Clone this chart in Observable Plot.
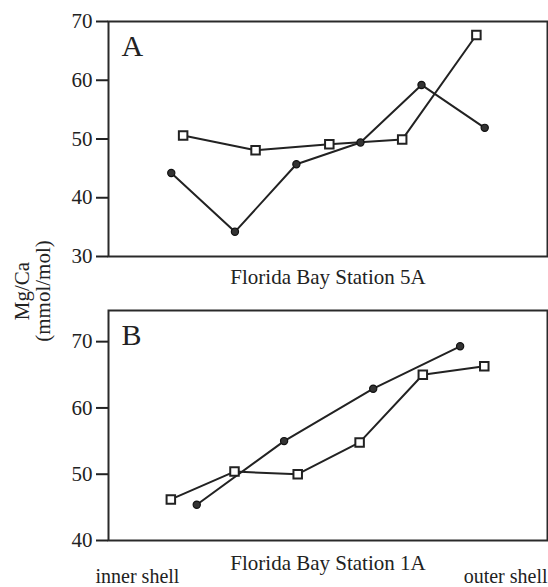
<!DOCTYPE html>
<html>
<head>
<meta charset="utf-8">
<script src="https://cdn.jsdelivr.net/npm/d3@7"></script>
<script src="https://cdn.jsdelivr.net/npm/@observablehq/plot@0.6"></script>
<style>
  html, body { margin: 0; padding: 0; background: #fff; }
  #chart { position: relative; width: 548px; height: 587px; font-family: "Liberation Serif", "Times New Roman", serif; color: #222; }
  #chart svg { display: block; }
  #chart svg text { font-family: "Liberation Serif", "Times New Roman", serif; }
  #ylab { position: absolute; left: 0; top: 0; pointer-events: none; }
</style>
</head>
<body>
<div id="chart"></div>
<script>
// Panel A: Florida Bay Station 5A
const panelA = "A";
const stationA = "Florida Bay Station 5A";
const posA_circle = [14.3, 28.8, 42.8, 57.4, 71.3, 85.7];
const mgcaA_circle = [44.2, 34.2, 45.7, 49.4, 59.2, 51.9];
const posA_square = [17.0, 33.5, 50.3, 66.9, 83.8];
const mgcaA_square = [50.6, 48.1, 49.1, 49.9, 67.7];
const ticksA = [30, 40, 50, 60, 70];

// Panel B: Florida Bay Station 1A
const panelB = "B";
const stationB = "Florida Bay Station 1A";
const posB_circle = [20.1, 40.0, 60.3, 80.1];
const mgcaB_circle = [45.4, 55.0, 62.9, 69.3];
const posB_square = [14.2, 28.7, 43.1, 57.2, 71.6, 85.6];
const mgcaB_square = [46.2, 50.4, 50.0, 54.8, 65.0, 66.3];
const ticksB = [40, 50, 60, 70];

const yTitle = ["Mg/Ca", "(mmol/mol)"];
const shellLabels = ["inner shell", "outer shell"];

const toRows = (xs, ys) => xs.map((x, i) => ({x, y: ys[i]}));

const INK = "#222";
const FONT = "'Liberation Serif', 'Times New Roman', serif";

function panel({letter, station, circles, squares, ticks, yDomain, height, marginTop, marginBottom, stationDy, extra = []}) {
  return Plot.plot({
    width: 548,
    height,
    marginLeft: 108,
    marginRight: 1,
    marginTop,
    marginBottom,
    style: {fontFamily: FONT, fontSize: "21px", color: INK, background: "transparent", overflow: "visible"},
    x: {domain: [0, 100], axis: null},
    y: {domain: yDomain, ticks, tickSize: 12, tickPadding: 4, label: null, tickFormat: d => d},
    marks: [
      Plot.frame({stroke: "#2a2a2a", strokeWidth: 2}),
      Plot.axisY({ticks, tickSize: 12, tickPadding: 4, label: null, strokeWidth: 2, fontSize: 21, fontFamily: FONT}),
      Plot.line(circles, {x: "x", y: "y", stroke: INK, strokeWidth: 2}),
      Plot.line(squares, {x: "x", y: "y", stroke: INK, strokeWidth: 2}),
      Plot.dot(circles, {x: "x", y: "y", r: 3.6, fill: "#333", stroke: "#111", strokeWidth: 1.2}),
      Plot.dot(squares, {x: "x", y: "y", symbol: "square", r: 4.8, fill: "white", stroke: INK, strokeWidth: 2}),
      Plot.text([letter], {text: d => d, frameAnchor: "top-left", textAnchor: "start", lineAnchor: "top", dx: 13, dy: 13, fontSize: 30, fontFamily: FONT, fill: INK}),
      Plot.text([station], {text: d => d, frameAnchor: "bottom", textAnchor: "middle", lineAnchor: "top", dy: stationDy, fontSize: 21, fontFamily: FONT, fill: INK}),
      ...extra
    ]
  });
}

const chart = document.getElementById("chart");

const plotA = panel({
  letter: panelA, station: stationA,
  circles: toRows(posA_circle, mgcaA_circle),
  squares: toRows(posA_square, mgcaA_square),
  ticks: ticksA, yDomain: [30, 70],
  height: 300, marginTop: 21, marginBottom: 44, stationDy: 13
});

const plotB = panel({
  letter: panelB, station: stationB,
  circles: toRows(posB_circle, mgcaB_circle),
  squares: toRows(posB_square, mgcaB_square),
  ticks: ticksB, yDomain: [40, 74.7],
  height: 287, marginTop: 10, marginBottom: 47, stationDy: 15,
  extra: [
    Plot.text([shellLabels[0]], {text: d => d, frameAnchor: "bottom-left", textAnchor: "start", lineAnchor: "top", dx: -13, dy: 28, fontSize: 20, fontFamily: FONT, fill: INK}),
    Plot.text([shellLabels[1]], {text: d => d, frameAnchor: "bottom-right", textAnchor: "end", lineAnchor: "top", dx: 0, dy: 28, fontSize: 20, fontFamily: FONT, fill: INK})
  ]
});

chart.appendChild(plotA);
chart.appendChild(plotB);

// Shared y-axis title, rotated, spanning both panels
const ysvg = d3.select(chart).append("svg")
  .attr("id", "ylab").attr("width", 70).attr("height", 587);
const yLines = [{t: yTitle[0], x: 29}, {t: yTitle[1], x: 50}];
ysvg.selectAll("text").data(yLines).join("text")
  .attr("transform", d => `translate(${d.x},291) rotate(-90)`)
  .attr("text-anchor", "middle")
  .attr("font-family", FONT)
  .attr("font-size", 21)
  .attr("fill", INK)
  .text(d => d.t);
</script>
</body>
</html>
